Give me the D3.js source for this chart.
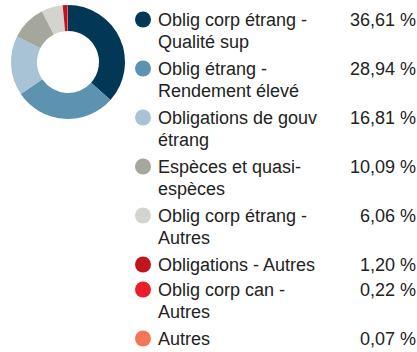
<!DOCTYPE html>
<html>
<head>
<meta charset="utf-8">
<script src="https://cdn.jsdelivr.net/npm/d3@7"></script>
<style>
  html, body { margin: 0; padding: 0; background: #fff; }
  svg { display: block; }
  text { font-family: "Liberation Sans", Arial, sans-serif; fill: #222; }
</style>
</head>
<body>
<svg id="chart" width="417" height="352"></svg>
<script>
// Asset mix: labels (split into display lines), percentages and slice colours
const labels = [
  ["Oblig corp étrang -", "Qualité sup"],
  ["Oblig étrang -", "Rendement élevé"],
  ["Obligations de gouv", "étrang"],
  ["Espèces et quasi-", "espèces"],
  ["Oblig corp étrang -", "Autres"],
  ["Obligations - Autres"],
  ["Oblig corp can -", "Autres"],
  ["Autres"]
];
const values = [36.61, 28.94, 16.81, 10.09, 6.06, 1.20, 0.22, 0.07];
const colors = ["#023756", "#5d93b0", "#a9c3d6", "#a6a79c", "#d4d4ce", "#c0151f", "#ec1c29", "#f37658"];

const svg = d3.select("#chart");
const fmt = v => d3.format(".2f")(v).replace(".", ",") + " %";

// Donut
const cx = 68, cy = 62, outerR = 57, innerR = 31;
const pie = d3.pie().sort(null).value(d => d)(values);
const arc = d3.arc().innerRadius(innerR).outerRadius(outerR);
svg.append("g")
  .attr("transform", `translate(${cx},${cy})`)
  .selectAll("path")
  .data(pie)
  .join("path")
  .attr("d", arc)
  .attr("fill", (d, i) => colors[i]);

// Legend
const lineH = 22, entryGap = 5, singleH = 25;
let y = 26;
const legend = svg.append("g");
labels.forEach((lines, i) => {
  const g = legend.append("g").attr("transform", `translate(0,${y})`);
  g.append("circle").attr("cx", 143).attr("cy", -6.5).attr("r", 8).attr("fill", colors[i]);
  const t = g.append("text").attr("x", 158).attr("y", 0).style("font-size", "18px");
  lines.forEach((ln, k) => {
    t.append("tspan").attr("x", 158).attr("dy", k === 0 ? 0 : lineH).text(ln);
  });
  g.append("text").attr("x", 416).attr("y", 0).attr("text-anchor", "end")
    .style("font-size", "18px").text(fmt(values[i]));
  y += lines.length > 1 ? lineH * 2 + entryGap : singleH;
});
</script>
</body>
</html>
